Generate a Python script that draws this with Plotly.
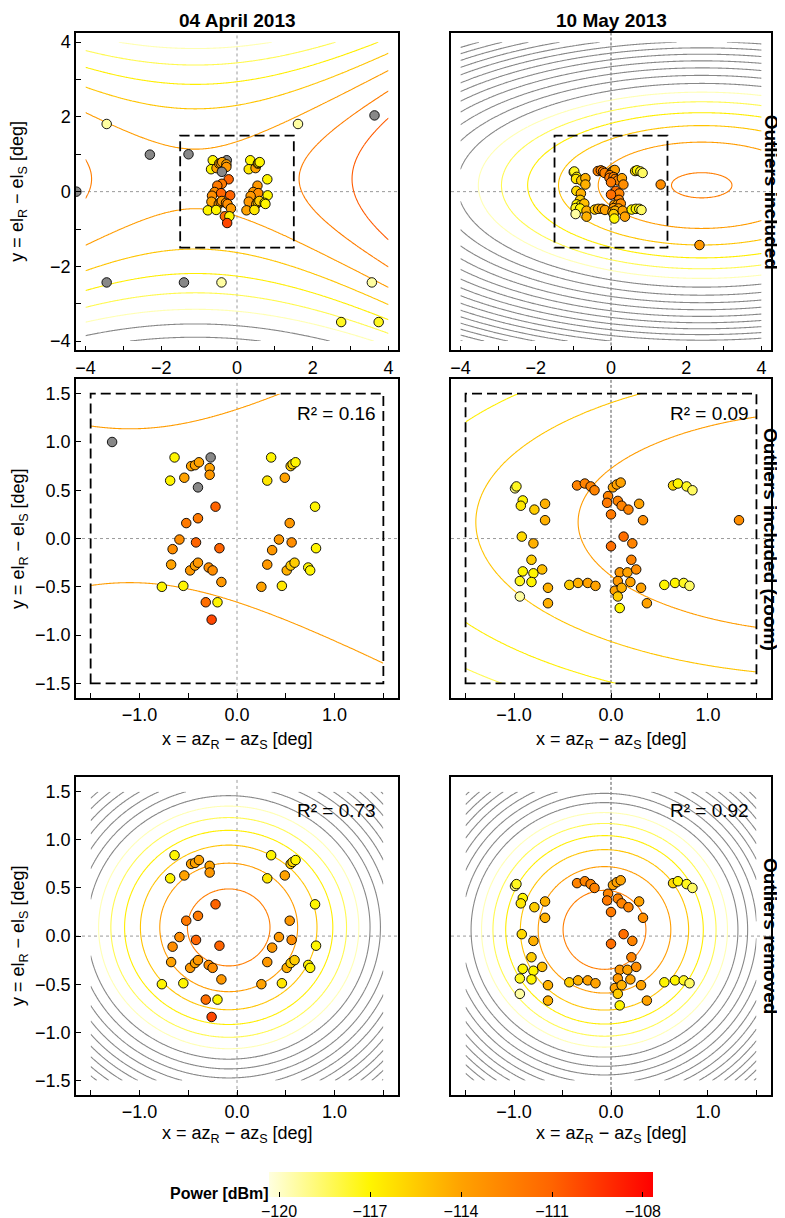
import numpy as np
import plotly.graph_objects as go

W, H = 785, 1218

# ---------------- data: 04 April 2013 ----------------
apr_x = [-1.28, -0.64, -0.27, -0.685, -0.54, -0.47, -0.43, -0.39, -0.28, -0.28,
         -0.40, -0.22, -0.40, -0.52, -0.59, -0.42, -0.18, -0.66, -0.675, -0.48,
         -0.43, -0.40, -0.29, -0.25, -0.16, -0.77, -0.55, -0.32, -0.20, -0.26,
         0.35, 0.31, 0.49, 0.55, 0.57, 0.60, 0.80, 0.54, 0.43, 0.56,
         0.81, 0.36, 0.31, 0.51, 0.55, 0.59, 0.73, 0.75, 0.25, 0.46,
         -3.44, -2.30, 1.61, 3.63, -3.44, -1.40, -0.41, 3.56, 2.75, 3.74, -4.24]
apr_y = [1.00, 0.84, 0.84, 0.60, 0.63, 0.75, 0.76, 0.79, 0.73, 0.66,
         0.53, 0.33, 0.21, 0.16, -0.01, -0.04, -0.10, -0.11, -0.27, -0.33,
         -0.28, -0.25, -0.30, -0.33, -0.45, -0.50, -0.49, -0.66, -0.66, -0.84,
         0.84, 0.60, 0.63, 0.75, 0.77, 0.79, 0.33, 0.16, -0.01, -0.04,
         -0.10, -0.12, -0.27, -0.33, -0.28, -0.25, -0.30, -0.33, -0.50, -0.49,
         1.81, 0.99, 1.81, 2.04, -2.43, -2.43, -2.43, -2.43, -3.49, -3.49, 0.0]
apr_p = [-123, -117, -122, -117, -114, -114, -114, -114, -114, -113.5,
         -122, -111, -112, -112, -113, -111, -111, -113, -114, -113.5,
         -114, -113.5, -113, -113, -113.5, -117, -117, -111.5, -117, -110,
         -117, -116.5, -114, -115.5, -116, -117, -117, -113.5, -113.5, -113,
         -117, -113.5, -113.5, -114.5, -115.5, -115.5, -117, -117, -114, -116.5,
         -119.5, -123, -119.5, -123, -123, -123, -119.5, -119.5, -117.5, -117.5, -123]
apr_outlier = [1, 0, 1, 0, 0, 0, 0, 0, 0, 0,
               1, 0, 0, 0, 0, 0, 0, 0, 0, 0,
               0, 0, 0, 0, 0, 0, 0, 0, 0, 0,
               0, 0, 0, 0, 0, 0, 0, 0, 0, 0,
               0, 0, 0, 0, 0, 0, 0, 0, 0, 0,
               1, 1, 1, 1, 1, 1, 1, 1, 1, 1, 1]

# ---------------- data: 10 May 2013 ----------------
may_x = [-0.99, -0.975, -0.91, -0.93, -0.79, -0.68, -0.68, -0.35, -0.27, -0.21,
         -0.17, 0.02, 0.06, 0.10, -0.03, -0.04, 0.07, 0.11, 0.18, 0.29,
         0.00, 0.33, 0.64, 0.69, 0.78, 0.84, 1.32, -0.92, -0.80, 0.13,
         0.22, 0.00, -0.82, -0.91, -0.80, -0.71, -0.94, -0.82, -0.94, -0.65,
         -0.65, -0.43, -0.34, -0.24, -0.16, 0.21, 0.09, 0.17, 0.26, 0.07,
         0.20, 0.04, 0.11, 0.07, 0.09, 0.31, 0.37, 0.55, 0.66, 0.75,
         0.81, 2.35]
may_y = [0.52, 0.54, 0.395, 0.34, 0.30, 0.36, 0.19, 0.55, 0.57, 0.54,
         0.50, 0.53, 0.56, 0.58, 0.44, 0.37, 0.39, 0.34, 0.30, 0.36,
         0.25, 0.19, 0.55, 0.57, 0.54, 0.50, 0.19, 0.02, -0.05, 0.02,
         -0.05, -0.08, -0.22, -0.34, -0.36, -0.32, -0.44, -0.45, -0.60, -0.51,
         -0.67, -0.48, -0.46, -0.46, -0.49, -0.22, -0.35, -0.35, -0.32, -0.44,
         -0.45, -0.54, -0.51, -0.60, -0.72, -0.51, -0.67, -0.48, -0.46, -0.46,
         -0.49, -1.43]
may_p = [-119, -117.5, -117, -116.5, -115.5, -114.5, -114.5, -112.5, -112.5, -112.5,
         -112.5, -114, -114, -114, -112.5, -112, -112.5, -112.5, -112.5, -114,
         -112, -113, -116, -117, -117.5, -118.5, -113, -116, -114.5, -111.5,
         -112.5, -111.5, -115.5, -117, -117, -115, -117.5, -117, -119.5, -114.5,
         -114.5, -115.5, -114.5, -114, -114, -112.5, -113.5, -114, -113, -113.5,
         -114, -114, -114.5, -115.5, -117, -114, -114, -117, -117, -117.5,
         -118.5, -113.5]
may_outlier = [0] * 26 + [1] + [0] * 34 + [1]

# quadratic fits  P = p0 + ax*(x-xc)^2 + ay*(y-yc)^2   [p0, ax, ay, xc, yc]
fit_apr_incl = [-113.67, 0.156, -0.52, -1.10, 0.34]
fit_may_incl = [-112.36, -0.217, -1.23, 2.41, 0.17]
fit_apr_rem = [-111.66, -4.69, -5.25, -0.085, 0.09]
fit_may_rem = [-111.54, -5.26, -5.70, -0.067, 0.065]

r2_labels = ["R² = 0.16", "R² = 0.09", "R² = 0.73", "R² = 0.92"]
col_titles = ["04 April 2013", "10 May 2013"]
row_titles = ["Outliers included", "Outliers included (zoom)", "Outliers removed"]
cb_ticks = [-120, -117, -114, -111, -108]

# ---------------- colour scales ----------------
CB_MIN, CB_MAX = -120.33, -107.67
cb_stops = [(-120.33, '#FFFFE0'), (-117, '#FFF500'), (-114, '#FFA200'),
            (-111, '#FF6400'), (-107.67, '#FF0000')]
CB_SCALE = [[(v - CB_MIN) / (CB_MAX - CB_MIN), c] for v, c in cb_stops]

ZMIN, ZMAX = -150.0, CB_MAX
def zpos(v):
    return (v - ZMIN) / (ZMAX - ZMIN)
GRAY = '#888888'
EXT_SCALE = [[0, GRAY], [zpos(-119.85), GRAY], [zpos(-119.85) + 1e-4, '#FFFFB8']] + \
            [[zpos(v), c] for v, c in cb_stops[1:]]

FONT = "Liberation Sans, Arial, Helvetica, sans-serif"
TICK = 18
LAB = 18

def px(x):
    return x / W
def py(y):
    return 1 - y / H

col_dom = [[px(68), px(390)], [px(443), px(763)]]
row_dom = [[py(345), py(25)], [py(695), py(374)], [py(1095), py(775)]]

fig = go.Figure()

def grid(par, lo, hi, n=241):
    p0, ax, ay, xc, yc = par
    g = np.linspace(lo, hi, n)
    X, Y = np.meshgrid(g, g)
    Z = p0 + ax * (X - xc) ** 2 + ay * (Y - yc) ** 2
    return g, Z

def add_contour(par, lo, hi, k):
    g, Z = grid(par, lo, hi)
    fig.add_trace(go.Contour(
        x=g, y=g, z=Z, xaxis=f'x{k}', yaxis=f'y{k}',
        autocontour=False,
        contours=dict(coloring='lines', start=-150, end=-108, size=1.5, showlabels=False),
        line=dict(width=1.1, smoothing=1),
        colorscale=EXT_SCALE, zmin=ZMIN, zmax=ZMAX, zauto=False,
        showscale=False, hoverinfo='skip'))

def add_points(xs, ys, ps, flags, keep_outliers, k):
    sel = [i for i in range(len(xs)) if keep_outliers or not flags[i]]
    fig.add_trace(go.Scatter(
        x=[xs[i] for i in sel], y=[ys[i] for i in sel], xaxis=f'x{k}', yaxis=f'y{k}',
        mode='markers', cliponaxis=True, showlegend=False, hoverinfo='skip',
        marker=dict(size=9.5, color=[ps[i] for i in sel], colorscale=EXT_SCALE,
                    cmin=ZMIN, cmax=ZMAX, line=dict(color='black', width=0.9))))

# panel numbering: 1 (r1c1), 2 (r1c2), 3 (r2c1), 4 (r2c2), 5 (r3c1), 6 (r3c2)
add_contour(fit_apr_incl, -4, 4, 1)
add_contour(fit_may_incl, -4, 4, 2)
add_contour(fit_apr_incl, -1.5, 1.5, 3)
add_contour(fit_may_incl, -1.5, 1.5, 4)
add_contour(fit_apr_rem, -1.5, 1.5, 5)
add_contour(fit_may_rem, -1.5, 1.5, 6)

add_points(apr_x, apr_y, apr_p, apr_outlier, True, 1)
add_points(may_x, may_y, may_p, may_outlier, True, 2)
add_points(apr_x, apr_y, apr_p, apr_outlier, True, 3)
add_points(may_x, may_y, may_p, may_outlier, True, 4)
add_points(apr_x, apr_y, apr_p, apr_outlier, False, 5)
add_points(may_x, may_y, may_p, may_outlier, False, 6)

# colour bar (dummy trace)
fig.add_trace(go.Scatter(
    x=[None], y=[None], xaxis='x6', yaxis='y6', mode='markers', showlegend=False,
    marker=dict(color=[CB_MIN], colorscale=CB_SCALE, cmin=CB_MIN, cmax=CB_MAX, showscale=True,
                colorbar=dict(orientation='h', x=px(453), xanchor='center', y=py(1173),
                              yanchor='top', ypad=0, xpad=0, len=384, lenmode='pixels',
                              thickness=25, thicknessmode='pixels', outlinewidth=0,
                              tickvals=cb_ticks, ticktext=[f'\u2212{abs(t)}' for t in cb_ticks],
                              ticks='inside', ticklen=5, tickcolor='black',
                              tickfont=dict(size=16, family=FONT, color='black')))))

def minus(v, fmt):
    s = format(v, fmt)
    return s.replace('-', '\u2212')

big_vals = [-4, -3, -2, -1, 0, 1, 2, 3, 4]
big_text = [minus(v, 'd') if v % 2 == 0 else '' for v in big_vals]
sm_vals = [-1.5, -1.0, -0.5, 0.0, 0.5, 1.0, 1.5]
sm_xtext = ['' if abs(v) in (0.5, 1.5) else minus(v, '.1f') for v in sm_vals]
sm_ytext = [minus(v, '.1f') for v in sm_vals]

base_axis = dict(showline=True, mirror=True, linecolor='black', linewidth=1.5,
                 ticks='inside', ticklen=5, tickwidth=1, tickcolor='black',
                 showgrid=False, zeroline=False, fixedrange=True,
                 tickfont=dict(size=TICK, family=FONT, color='black'))

layout_axes = {}
for k in range(1, 7):
    r = (k - 1) // 2
    c = (k - 1) % 2
    if r == 0:
        rng, xv, xt, yv, yt = [-4.25, 4.25], big_vals, big_text, big_vals, big_text
    else:
        rng, xv, xt, yv, yt = [-1.65, 1.65], sm_vals, sm_xtext, sm_vals, sm_ytext
    xa = dict(base_axis, domain=col_dom[c], range=rng, anchor=f'y{k}',
              tickmode='array', tickvals=xv, ticktext=xt)
    ya = dict(base_axis, domain=row_dom[r], range=rng, anchor=f'x{k}',
              tickmode='array', tickvals=yv, ticktext=yt)
    if c == 1:
        ya.update(ticks='', showticklabels=False)
    layout_axes['xaxis' if k == 1 else f'xaxis{k}'] = xa
    layout_axes['yaxis' if k == 1 else f'yaxis{k}'] = ya

shapes = []
for k in range(1, 7):
    c = (k - 1) % 2
    xr = 'x' if k == 1 else f'x{k}'
    yr = 'y' if k == 1 else f'y{k}'
    vcol = '#9a9a9a' if c == 0 else '#555555'
    shapes.append(dict(type='line', xref=xr, yref=f'{yr} domain', x0=0, x1=0, y0=0, y1=1,
                       line=dict(color=vcol, width=1, dash='dot' if c == 0 else '3px,2px'),
                       layer='below'))
    shapes.append(dict(type='line', xref=f'{xr} domain', yref=yr, x0=0, x1=1, y0=0, y1=0,
                       line=dict(color='#9a9a9a', width=1, dash='dot'), layer='below'))
    if k <= 4:
        shapes.append(dict(type='rect', xref=xr, yref=yr, x0=-1.5, x1=1.5, y0=-1.5, y1=1.5,
                           line=dict(color='black', width=1.8, dash='10px,5px'), layer='above'))

ann = []
for c, t in enumerate(col_titles):
    ann.append(dict(text=f'<b>{t}</b>', x=px([229, 603][c]), y=py(13), xref='paper', yref='paper',
                    showarrow=False, font=dict(size=19, family=FONT, color='black'),
                    xanchor='center', yanchor='middle'))
for r, t in enumerate(row_titles):
    ann.append(dict(text=f'<b>{t}</b>', x=px(763), y=py([185, 535, 935][r]), xref='paper', yref='paper',
                    showarrow=False, textangle=90, font=dict(size=19, family=FONT, color='black'),
                    xanchor='center', yanchor='middle'))
ylab = 'y = el<sub>R</sub> \u2212 el<sub>S</sub> [deg]'
xlab = 'x = az<sub>R</sub> \u2212 az<sub>S</sub> [deg]'
for r in range(3):
    ann.append(dict(text=ylab, x=px(11), y=py([185, 535, 935][r]), xref='paper', yref='paper',
                    showarrow=False, textangle=-90, font=dict(size=LAB, family=FONT, color='black'),
                    xanchor='center', yanchor='middle'))
for yy in (738, 1135):
    for c in range(2):
        ann.append(dict(text=xlab, x=px([229, 603][c]), y=py(yy), xref='paper', yref='paper',
                        showarrow=False, font=dict(size=LAB, family=FONT, color='black'),
                        xanchor='center', yanchor='middle'))
for i, k in enumerate([3, 4, 5, 6]):
    ann.append(dict(text=r2_labels[i], x=1.44, y=1.30, xref=f'x{k}', yref=f'y{k}',
                    showarrow=False, font=dict(size=19, family=FONT, color='black'),
                    xanchor='right', yanchor='middle'))
ann.append(dict(text='<b>Power [dBm]</b>', x=px(263), y=py(1194), xref='paper', yref='paper',
                showarrow=False, font=dict(size=16, family=FONT, color='black'),
                xanchor='right', yanchor='middle'))

fig.update_layout(width=W, height=H, margin=dict(l=0, r=0, t=0, b=0),
                  paper_bgcolor='white', plot_bgcolor='white', showlegend=False,
                  font=dict(family=FONT, color='black'),
                  shapes=shapes, annotations=ann, **layout_axes)

fig.write_html("out.html")
